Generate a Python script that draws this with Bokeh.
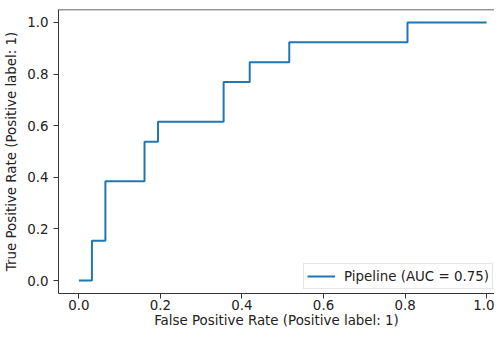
from bokeh.plotting import figure
from bokeh.models import Range1d, FixedTicker, NumeralTickFormatter, Span, Legend, LegendItem, ColumnDataSource
from bokeh.embed import file_html
from bokeh.resources import INLINE

# ROC curve data
fpr = [0.0, 0.032, 0.032, 0.065, 0.065, 0.161, 0.161, 0.194, 0.194, 0.355, 0.355,
       0.419, 0.419, 0.516, 0.516, 0.806, 0.806, 1.0]
tpr = [0.0, 0.0, 0.154, 0.154, 0.385, 0.385, 0.538, 0.538, 0.615, 0.615, 0.769,
       0.769, 0.846, 0.846, 0.923, 0.923, 1.0, 1.0]
ticks = [0.0, 0.2, 0.4, 0.6, 0.8, 1.0]
legend_label = "Pipeline (AUC = 0.75)"
x_label = "False Positive Rate (Positive label: 1)"
y_label = "True Positive Rate (Positive label: 1)"

FONT = "DejaVu Sans"
FS = "13.4px"

p = figure(width=494, height=330, output_backend="svg", toolbar_location=None,
           x_range=Range1d(-0.05, 1.0194), y_range=Range1d(-0.05, 1.05),
           min_border_left=58, min_border_right=0, min_border_top=9, min_border_bottom=20)
p.outline_line_color = None
p.xgrid.visible = False
p.ygrid.visible = False
p.background_fill_color = "white"
p.border_fill_color = "white"

src = ColumnDataSource(dict(x=fpr, y=tpr))
r = p.line("x", "y", source=src, line_color="#1f77b4", line_width=2)

for ax in (p.xaxis[0], p.yaxis[0]):
    ax.ticker = FixedTicker(ticks=ticks)
    ax.formatter = NumeralTickFormatter(format="0.0")
    ax.minor_tick_line_color = None
    ax.major_tick_in = 0
    ax.major_tick_out = 5
    ax.major_tick_line_color = "#333333"
    ax.axis_line_color = "#333333"
    ax.major_label_text_font = FONT
    ax.major_label_text_font_size = FS
    ax.major_label_text_color = "#222222"
    ax.axis_label_text_font = FONT
    ax.axis_label_text_font_size = FS
    ax.axis_label_text_font_style = "normal"
    ax.axis_label_text_color = "#222222"

p.xaxis.axis_label = x_label
p.yaxis.axis_label = y_label
p.xaxis.major_label_standoff = 1
p.xaxis.axis_label_standoff = 0
p.yaxis.major_label_standoff = 5
p.yaxis.axis_label_standoff = 5

top = Span(location=1.05, dimension="width", line_color="#333333", line_width=1.5)
p.add_layout(top)

legend = Legend(items=[LegendItem(label=legend_label, renderers=[r])],
                location=(245, 4), padding=3, margin=0, spacing=0,
                glyph_width=28, glyph_height=18, label_standoff=9,
                label_text_font=FONT, label_text_font_size=FS,
                label_text_color="#222222",
                border_line_color="#cccccc", border_line_width=1,
                background_fill_color="white", background_fill_alpha=0.8)
p.add_layout(legend)

open("out.html", "w").write(file_html(p, INLINE))
